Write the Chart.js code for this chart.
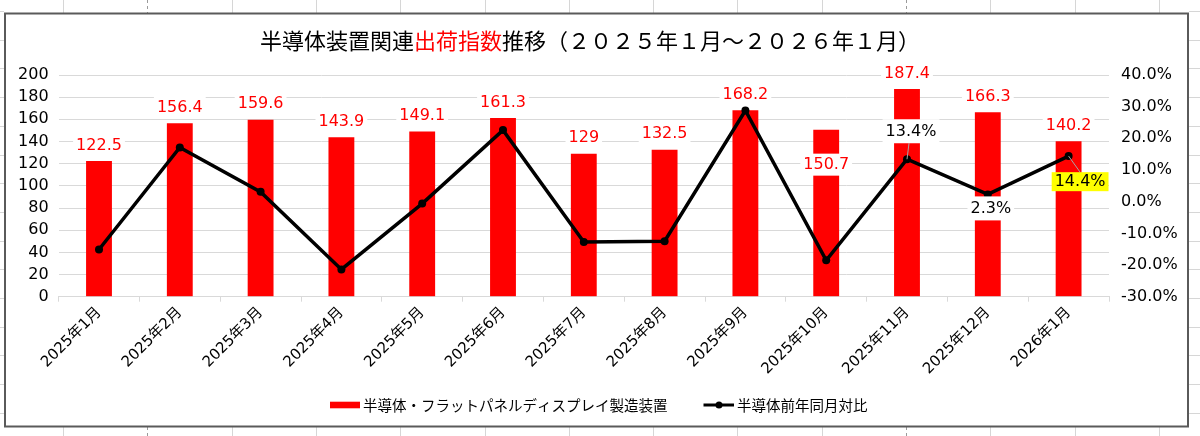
<!DOCTYPE html>
<html lang="ja">
<head>
<meta charset="utf-8">
<title>半導体装置関連出荷指数推移</title>
<script src="https://cdn.jsdelivr.net/npm/chart.js@4.4.1/dist/chart.umd.min.js"></script>
<style>
    html, body { margin: 0; padding: 0; background: #fff; overflow: hidden; }
    #wrap { width: 1200px; height: 436px; }
</style>
</head>
<body>
<div id="wrap"><canvas id="shipChart" width="1200" height="436"></canvas></div>
<script>
const months = ['2025年1月', '2025年2月', '2025年3月', '2025年4月', '2025年5月', '2025年6月',
    '2025年7月', '2025年8月', '2025年9月', '2025年10月', '2025年11月', '2025年12月', '2026年1月'];
const shipmentIndex = [122.5, 156.4, 159.6, 143.9, 149.1, 161.3, 129, 132.5, 168.2, 150.7, 187.4, 166.3, 140.2];
const yoyPercent = [-15.1, 17.1, 3.1, -21.4, -0.6, 22.6, -12.7, -12.5, 28.8, -18.5, 13.4, 2.3, 14.4];
const leftTickValues = [0, 20, 40, 60, 80, 100, 120, 140, 160, 180, 200];
const rightTickValues = [-30, -20, -10, 0, 10, 20, 30, 40];

const barName = '半導体・フラットパネルディスプレイ製造装置';
const lineName = '半導体前年同月対比';

const FONT = "'DejaVu Sans', 'Noto Sans CJK JP', sans-serif";
const JP_FONT = "'Noto Sans CJK JP', sans-serif";

// where the value labels sit (pixels from the mark)
const barLabelDy = months.map((m, i) => i === 9 ? 35 : -16);
const yoyLabels = {
    10: { dx: 4, dy: -28, bg: '#ffffff', h: 24, leader: true },
    11: { dx: 3, dy: 14, bg: '#ffffff', h: 24, leader: false },
    12: { dx: 11.5, dy: 25.6, bg: '#ffff00', h: 19, leader: true }
};

// excel sheet behind the chart + chart border
const sheetBackground = {
    id: 'sheetBackground',
    beforeDraw(chart) {
        const ctx = chart.ctx;
        ctx.save();
        ctx.fillStyle = '#fff';
        ctx.fillRect(0, 0, chart.width, chart.height);
        ctx.lineWidth = 1;
        for (let k = 0; k < 14; k++) {
            const x = Math.round(63 + 84.3 * k) + 0.5;
            const pageBreak = (k === 1 || k === 10);
            ctx.strokeStyle = pageBreak ? '#9a9a9a' : '#d6d6d6';
            ctx.setLineDash(pageBreak ? [3, 3] : []);
            ctx.beginPath();
            ctx.moveTo(x, 0); ctx.lineTo(x, 13);
            ctx.moveTo(x, 427); ctx.lineTo(x, 436);
            ctx.stroke();
        }
        ctx.setLineDash([]);
        ctx.strokeStyle = '#d6d6d6';
        for (let k = -5; k <= 10; k++) {
            const y = Math.round(298 - 28.7 * k) + 0.5;
            ctx.beginPath();
            ctx.moveTo(0, y); ctx.lineTo(4, y);
            ctx.moveTo(1189, y); ctx.lineTo(1200, y);
            ctx.stroke();
        }
        ctx.fillStyle = '#fff';
        ctx.fillRect(5, 13, 1183, 413);
        ctx.strokeStyle = '#5a5a5a';
        ctx.lineWidth = 2;
        ctx.strokeRect(5, 13.5, 1183, 413);
        ctx.restore();
    }
};

const titleAndLegend = {
    id: 'titleAndLegend',
    afterDraw(chart) {
        const ctx = chart.ctx;
        ctx.save();
        // title, middle part in red
        const parts = [['半導体装置関連', '#000'], ['出荷指数', '#ff0000'], ['推移（２０２５年１月～２０２６年１月）', '#000']];
        ctx.font = '22px ' + JP_FONT;
        ctx.textBaseline = 'middle';
        ctx.textAlign = 'left';
        const total = parts.reduce((w, p) => w + ctx.measureText(p[0]).width, 0);
        let x = 590 - total / 2;
        parts.forEach(p => {
            ctx.fillStyle = p[1];
            ctx.fillText(p[0], x, 41);
            x += ctx.measureText(p[0]).width;
        });

        // legend
        const ly = 405;
        ctx.fillStyle = '#ff0000';
        ctx.fillRect(330, ly - 3.3, 30, 6.6);
        ctx.font = '14.5px ' + JP_FONT;
        ctx.fillStyle = '#000';
        ctx.fillText(barName, 363, ly);
        ctx.strokeStyle = '#000';
        ctx.lineWidth = 3;
        ctx.beginPath();
        ctx.moveTo(703.5, ly); ctx.lineTo(734, ly);
        ctx.stroke();
        ctx.beginPath();
        ctx.arc(719, ly, 3.5, 0, Math.PI * 2);
        ctx.fill();
        ctx.fillText(lineName, 737, ly);
        ctx.restore();
    }
};

function labelBox(ctx, text, cx, cy, h, bg, color) {
    const w = ctx.measureText(text).width + 6;
    ctx.fillStyle = bg;
    ctx.fillRect(cx - w / 2, cy - h / 2, w, h);
    ctx.fillStyle = color;
    ctx.fillText(text, cx, cy + 0.5);
    return { w: w, h: h };
}

const valueLabels = {
    id: 'valueLabels',
    afterDatasetsDraw(chart) {
        const ctx = chart.ctx;
        ctx.save();
        ctx.font = '16px ' + FONT;
        ctx.textAlign = 'center';
        ctx.textBaseline = 'middle';

        chart.getDatasetMeta(0).data.forEach((bar, i) => {
            labelBox(ctx, String(shipmentIndex[i]), bar.x, bar.y + barLabelDy[i], 22, '#fff', '#ff0000');
        });

        const points = chart.getDatasetMeta(1).data;
        Object.keys(yoyLabels).forEach(k => {
            const i = Number(k);
            const opt = yoyLabels[k];
            const p = points[i];
            const cx = p.x + opt.dx, cy = p.y + opt.dy;
            if (opt.leader) {
                ctx.strokeStyle = '#a6a6a6';
                ctx.lineWidth = 1;
                ctx.beginPath();
                ctx.moveTo(p.x, p.y);
                if (opt.dy < 0) ctx.lineTo(cx - 2, cy + opt.h / 2);
                else ctx.lineTo(cx, cy - opt.h / 2);
                ctx.stroke();
            }
            labelBox(ctx, yoyPercent[i].toFixed(1) + '%', cx, cy, opt.h, opt.bg, '#000');
        });
        ctx.restore();
    }
};

Chart.defaults.font.family = FONT;
Chart.defaults.color = '#000';

new Chart(document.getElementById('shipChart'), {
    type: 'bar',
    data: {
        labels: months,
        datasets: [{
            type: 'bar',
            label: barName,
            data: shipmentIndex,
            backgroundColor: '#ff0000',
            barPercentage: 0.32,
            categoryPercentage: 1.0,
            yAxisID: 'y',
            order: 2
        }, {
            type: 'line',
            label: lineName,
            data: yoyPercent,
            borderColor: '#000',
            backgroundColor: '#000',
            borderWidth: 3.5,
            pointRadius: 4,
            pointBackgroundColor: '#000',
            pointBorderWidth: 0,
            tension: 0,
            yAxisID: 'y2',
            order: 1
        }]
    },
    options: {
        responsive: false,
        animation: false,
        layout: { padding: { left: 8, right: 12, top: 75, bottom: 0 } },
        plugins: {
            legend: { display: false },
            title: { display: false },
            tooltip: { enabled: false }
        },
        scales: {
            x: {
                grid: { offset: true, drawOnChartArea: false, drawTicks: true, tickLength: 5, color: '#d9d9d9' },
                border: { color: '#d9d9d9' },
                ticks: { minRotation: 45, maxRotation: 45, autoSkip: false, padding: 2, font: { size: 15 } },
                afterFit: s => { s.height = 139.3; }
            },
            y: {
                position: 'left',
                min: 0,
                max: 200,
                afterBuildTicks: s => { s.ticks = leftTickValues.map(v => ({ value: v })); },
                ticks: { autoSkip: false, padding: 10, font: { size: 16 } },
                grid: { color: '#d9d9d9', drawTicks: false },
                border: { display: false },
                afterFit: s => { s.width = 50.6; }
            },
            y2: {
                position: 'right',
                min: -30,
                max: 40,
                afterBuildTicks: s => { s.ticks = rightTickValues.map(v => ({ value: v })); },
                ticks: { autoSkip: false, padding: 12, font: { size: 16 }, callback: v => v.toFixed(1) + '%' },
                grid: { drawOnChartArea: false, drawTicks: false },
                border: { display: false },
                afterFit: s => { s.width = 79; }
            }
        }
    },
    plugins: [sheetBackground, valueLabels, titleAndLegend]
});
</script>
</body>
</html>
